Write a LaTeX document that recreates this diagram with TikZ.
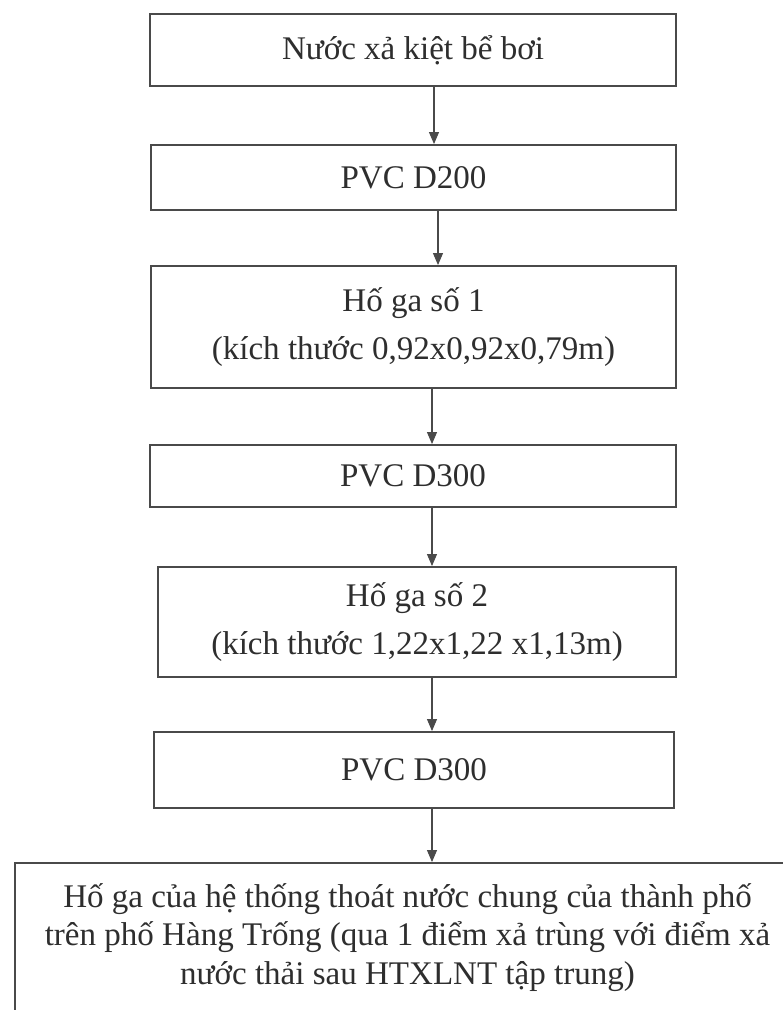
\documentclass[tikz,border=0pt]{standalone}
\usepackage{fontspec}
\setmainfont{Liberation Serif}
\usetikzlibrary{arrows.meta,positioning}
\definecolor{linec}{HTML}{4A4A4A}
\definecolor{textc}{HTML}{2E2E2E}
\tikzset{
  ar/.style={-{Triangle[length=2.4mm,width=2mm]},semithick,linec},
  box/.style={draw=linec,line width=1.1pt,align=center,inner sep=2pt,text=textc,
    font=\fontsize{18.8}{21.8}\selectfont}
}

\begin{document}
\begin{tikzpicture}[x=0.02cm,y=-0.02cm]
\clip (0,0) rectangle (783,1010);
\fill[white] (0,0) rectangle (783,1010);
% flow boxes
\node[box,minimum width=10.52cm,minimum height=1.44cm] (b1) at (413,50) {Nước xả kiệt bể bơi};
\node[box,minimum width=10.5cm,minimum height=1.3cm] (b2) at (413.5,177.5) {PVC D200};
\node[box,minimum width=10.5cm,minimum height=2.44cm] (b3) at (413.5,327)
  {Hố ga số 1\\[6pt](kích thước 0,92x0,92x0,79m)};
\node[box,minimum width=10.52cm,minimum height=1.24cm] (b4) at (413,476) {PVC D300};
\node[box,minimum width=10.36cm,minimum height=2.2cm] (b5) at (417,622)
  {Hố ga số 2\\[6pt](kích thước 1,22x1,22 x1,13m)};
\node[box,minimum width=10.4cm,minimum height=1.52cm] (b6) at (414,770) {PVC D300};
\node[box,minimum width=15.7cm,minimum height=2.98cm] (b7) at (407.5,937.5)
  {Hố ga của hệ thống thoát nước chung của thành phố\\
   trên phố Hàng Trống (qua 1 điểm xả trùng với điểm xả\\
   nước thải sau HTXLNT tập trung)};
% arrows
\coordinate (c1) at (434,0); \coordinate (c2) at (438,0); \coordinate (c3) at (432,0);
\draw[ar] (b1.south -| c1) -- (b2.north -| c1);
\draw[ar] (b2.south -| c2) -- (b3.north -| c2);
\draw[ar] (b3.south -| c3) -- (b4.north -| c3);
\draw[ar] (b4.south -| c3) -- (b5.north -| c3);
\draw[ar] (b5.south -| c3) -- (b6.north -| c3);
\draw[ar] (b6.south -| c3) -- (b7.north -| c3);
\end{tikzpicture}
\end{document}
